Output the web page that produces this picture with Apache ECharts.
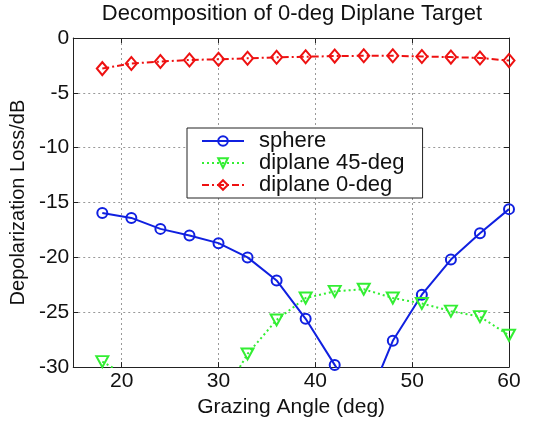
<!DOCTYPE html>
<html>
  <head>
    <meta charset="utf-8" />
    <script src="https://cdn.jsdelivr.net/npm/echarts@6/dist/echarts.min.js"></script>
  </head>
  <body style="margin:0;background:#fff;">
    <div id="main" style="width: 556px;height:423px;"></div>
    <script type="text/javascript">
      var myChart = echarts.init(document.getElementById('main'));

      // grazing angle (deg)
      const angles = [18, 21, 24, 27, 30, 33, 36, 39, 42, 45, 48, 51, 54, 57, 60];
      // depolarization loss (dB)
      const sphere = [-15.95, -16.4, -17.4, -18.0, -18.7, -20.0, -22.1, -25.6, -29.8, -34.0, -27.6, -23.4, -20.2, -17.8, -15.6];
      const diplane45 = [-29.5, -31.0, -34.0, -35.0, -33.3, -28.8, -25.7, -23.7, -23.1, -22.9, -23.7, -24.2, -24.9, -25.4, -27.1];
      const diplane0 = [-2.79, -2.32, -2.15, -2.0, -1.94, -1.85, -1.76, -1.71, -1.65, -1.62, -1.62, -1.68, -1.74, -1.82, -2.06];
      const xTicks = [20, 30, 40, 50, 60];

      const fontFam = 'Liberation Sans, Arial, sans-serif';
      const pairs = vals => angles.map((a, i) => [a, vals[i]]);

      function xAx(pos) {
        return {
          type: 'value',
          position: pos,
          min: 15,
          max: 60,
          name: pos === 'bottom' ? 'Grazing Angle (deg)' : '',
          nameLocation: 'middle',
          nameGap: 23,
          nameTextStyle: { color: '#111', fontSize: 21, fontFamily: fontFam },
          axisLine: { onZero: false, lineStyle: { color: '#222', width: 1 } },
          axisTick: { inside: true, length: 5, customValues: xTicks, lineStyle: { color: '#222' } },
          axisLabel: {
            show: pos === 'bottom',
            customValues: xTicks,
            margin: 4,
            color: '#111',
            fontSize: 21,
            fontFamily: fontFam
          },
          splitLine: {
            show: pos === 'bottom',
            lineStyle: { color: '#999', type: [2, 3], width: 1 }
          }
        };
      }

      function yAx(pos) {
        return {
          type: 'value',
          position: pos,
          min: -30,
          max: 0,
          interval: 5,
          name: pos === 'left' ? 'Depolarization Loss/dB' : '',
          nameLocation: 'middle',
          nameGap: 35,
          nameTextStyle: { color: '#111', fontSize: 20, fontFamily: fontFam },
          axisLine: { onZero: false, lineStyle: { color: '#222', width: 1 } },
          axisTick: { inside: true, length: 5, lineStyle: { color: '#222' } },
          axisLabel: {
            show: pos === 'left',
            margin: 4,
            color: '#111',
            fontSize: 21,
            fontFamily: fontFam
          },
          splitLine: {
            show: pos === 'left',
            lineStyle: { color: '#999', type: [2, 3], width: 1 }
          }
        };
      }

      option = {
        animation: false,
        backgroundColor: '#fff',
        title: {
          text: 'Decomposition of 0-deg Diplane Target',
          left: 287,
          top: -2,
          textAlign: 'center',
          textStyle: { color: '#111', fontSize: 22, fontWeight: 'normal', fontFamily: fontFam }
        },
        legend: {
          orient: 'vertical',
          left: 187,
          top: 128,
          padding: [2, 18, 2, 14],
          itemWidth: 42,
          itemHeight: 12,
          itemGap: 0,
          backgroundColor: '#fff',
          borderColor: '#222',
          borderWidth: 1,
          borderRadius: 0,
          textStyle: { color: '#111', fontSize: 22, fontFamily: fontFam, padding: [0, 0, 0, 10] },
          data: ['sphere', 'diplane 45-deg', 'diplane 0-deg']
        },
        grid: { left: 71, right: 47, top: 38, bottom: 52 },
        xAxis: [xAx('bottom'), xAx('top')],
        yAxis: [yAx('left'), yAx('right')],
        series: [
          { name: 'sphere',
            type: 'line',
            data: pairs(sphere),
            symbol: 'circle',
            symbolSize: 10,
            itemStyle: { color: 'transparent', borderColor: '#1020e0', borderWidth: 2 },
            lineStyle: { color: '#1020e0', width: 2 }
          },
          { name: 'diplane 45-deg',
            type: 'line',
            data: pairs(diplane45),
            symbol: 'triangle',
            symbolRotate: 180,
            symbolSize: [12, 11],
            itemStyle: { color: 'transparent', borderColor: '#33ee33', borderWidth: 2 },
            lineStyle: { color: '#33ee33', width: 2, type: [2, 3] }
          },
          { name: 'diplane 0-deg',
            type: 'line',
            data: pairs(diplane0),
            symbol: 'diamond',
            symbolSize: [11, 13],
            itemStyle: { color: 'transparent', borderColor: '#ee1111', borderWidth: 2 },
            lineStyle: { color: '#ee1111', width: 2, type: [7, 3, 2, 3] }
          }
        ]
      };

      myChart.setOption(option);
    </script>
  </body>
</html>
